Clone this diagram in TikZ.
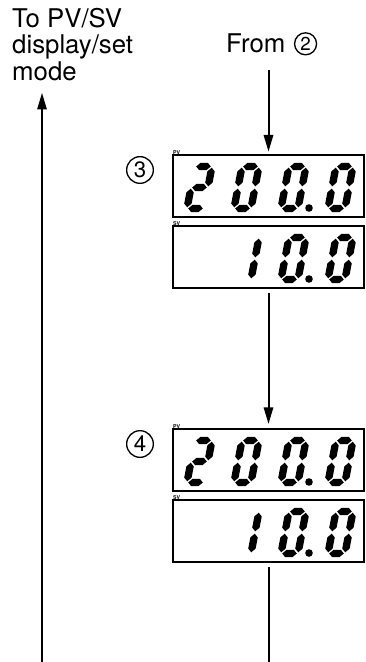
\documentclass[tikz,border=0pt]{standalone}
\usepackage{fontspec}
\setmainfont{TeX Gyre Heros}
\usetikzlibrary{arrows.meta,positioning,calc}

% seven segment geometry (picture units)
\def\segw{17}  \def\segh{42}  \def\seghh{21}
\def\segt{3.7} \def\seggap{1.2}

\newcommand{\hseg}[1]{%
  \fill ({\seggap},#1) -- ({\seggap+\segt},{#1+\segt}) -- ({\segw-\seggap-\segt},{#1+\segt})
    -- ({\segw-\seggap},#1) -- ({\segw-\seggap-\segt},{#1-\segt}) -- ({\seggap+\segt},{#1-\segt}) -- cycle;}
\newcommand{\vseg}[3]{%
  \fill (#1,{#2+\seggap}) -- ({#1+\segt},{#2+\seggap+\segt}) -- ({#1+\segt},{#3-\seggap-\segt})
    -- (#1,{#3-\seggap}) -- ({#1-\segt},{#3-\seggap-\segt}) -- ({#1-\segt},{#2+\seggap+\segt}) -- cycle;}
\def\segA{\hseg{\segh}}
\def\segG{\hseg{\seghh}}
\def\segD{\hseg{0}}
\def\segB{\vseg{\segw}{\seghh}{\segh}}
\def\segC{\vseg{\segw}{0}{\seghh}}
\def\segE{\vseg{0}{0}{\seghh}}
\def\segF{\vseg{0}{\seghh}{\segh}}

% one digit: box, slot, segments
\newcommand{\lcddigit}[3]{%
  \begin{scope}[shift={($(#1.north west)+(14+47*#2,-53.5)$)}, xslant=0.19]
    \foreach \sg in {#3} {\csname seg\sg\endcsname}
  \end{scope}}

\tikzset{
  flow/.style={line width=0.06cm, -{Triangle[length=0.5cm,width=0.28cm]}},
  wire/.style={line width=0.06cm},
  lcd/.style={draw, line width=0.045cm, inner sep=0, outer sep=0,
    minimum width=5.73cm, minimum height=1.86cm},
  tag/.style={font=\fontsize{4.5}{5}\selectfont\bfseries, inner sep=0, anchor=south west},
  circnum/.style={draw, circle, line width=0.04cm, inner sep=0, minimum size=0.8cm,
    font=\fontsize{19}{19}\selectfont},
  caption/.style={font=\fontsize{22}{22.5}\selectfont, inner sep=0},
}

\begin{document}
\begin{tikzpicture}[x=0.03cm, y=0.03cm]

	\useasboundingbox (0,0) rectangle (366,662);

	% captions
	\node[caption, align=left, anchor=north west] (tomode) at (12,654)
		{To PV/SV\\display/set\\mode};
	\node[caption, anchor=base west] (from) at (226,609) {From};
	\node[circnum, minimum size=0.66cm, font=\fontsize{16}{16}\selectfont,
		right=0.25cm of from] (n2) {2};

	% displays
	\node[lcd] (pv3) at (268.5,476) {};
	\node[lcd, below=0.27cm of pv3] (sv3) {};
	\node[lcd, below=4.23cm of sv3] (pv4) {};
	\node[lcd, below=0.27cm of pv4] (sv4) {};

	\node[circnum] (n3) at ($(pv3.north west)+(-33,-15)$) {3};
	\node[circnum] (n4) at ($(pv4.north west)+(-33,-15)$) {4};

	\foreach \disp/\lbl in {pv3/PV,sv3/SV,pv4/PV,sv4/SV}
		\node[tag] at ($(\disp.north west)+(0,0.5)$) {\lbl};

	% 200.0 on the PV rows
	\foreach \disp in {pv3,pv4} {
		\lcddigit{\disp}{0}{A,B,G,E,D}
		\lcddigit{\disp}{1}{A,B,C,D,E,F}
		\lcddigit{\disp}{2}{A,B,C,D,E,F}
		\lcddigit{\disp}{3}{A,B,C,D,E,F}
		\fill ($(\disp.north west)+(136,-53)$) circle (3.8);
	}
	% 10.0 on the SV rows
	\foreach \disp in {sv3,sv4} {
		\lcddigit{\disp}{1}{B,C}
		\lcddigit{\disp}{2}{A,B,C,D,E,F}
		\lcddigit{\disp}{3}{A,B,C,D,E,F}
		\fill ($(\disp.north west)+(136,-53)$) circle (3.8);
	}

	% connectors
	\coordinate (sink) at (268.5,0);
	\coordinate (ret) at (42,0);
	\draw[flow, shorten <=0.5cm, shorten >=0.1cm] (pv3.north |- from.south) -- (pv3.north);
	\draw[flow, shorten <=0.15cm, shorten >=0.15cm] (sv3.south) -- (pv4.north);
	\draw[wire, shorten <=0.15cm] (sv4.south) -- (sink);
	\draw[flow, shorten >=0.36cm] (ret) -- (ret |- tomode.south);

\end{tikzpicture}
\end{document}
